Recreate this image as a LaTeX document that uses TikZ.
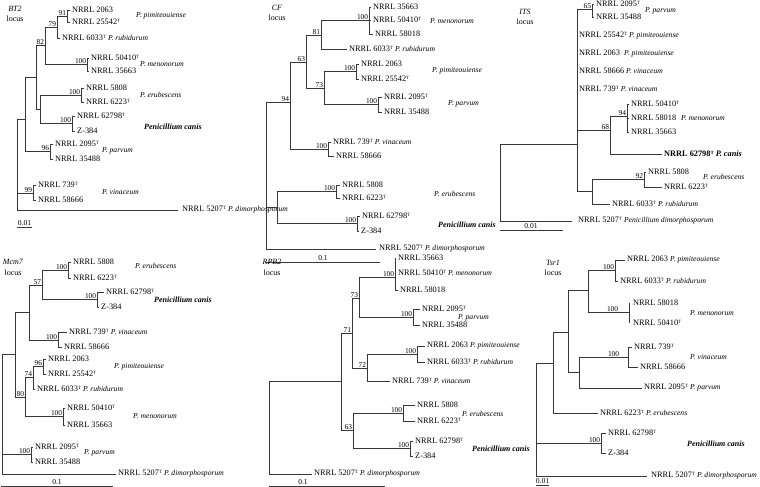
\documentclass[tikz,border=0pt]{standalone}
\usepackage{fontspec}
\setmainfont{Liberation Serif}
\newcommand{\sT}{\raisebox{0.62ex}{\fontsize{4.8}{5}\selectfont T}}
\newcommand{\spi}[1]{{\fontsize{7.6}{9}\selectfont\itshape #1}}
\begin{document}
\begin{tikzpicture}[x=1pt,y=-1pt,
  tl/.style={line width=0.9pt,draw=black!78},
  nt/.style={anchor=west,inner sep=0pt,xshift=2pt,font=\fontsize{8.3}{9}\selectfont},
  sp/.style={anchor=west,inner sep=0pt,font=\fontsize{7.6}{9}\selectfont\itshape},
  cn/.style={anchor=west,inner sep=0pt,font=\fontsize{8}{9}\selectfont\bfseries\itshape},
  bs/.style={anchor=south east,inner sep=0.7pt,font=\fontsize{7.4}{8}\selectfont},
  loc/.style={inner sep=0pt,font=\fontsize{8}{9}\selectfont},
  sc/.style={inner sep=0.5pt,anchor=south,font=\fontsize{7.6}{9}\selectfont}]
\useasboundingbox (0,0) rectangle (760,487);
\fill[white] (0,0) rectangle (760,487);

%%%%%%%%%%%%%%%% BT2
\node[loc] (bt2a) at (15,9) {\textit{BT2}};
\node[loc] (bt2b) at (15,19) {locus};
\coordinate (r1) at (17,119); \coordinate (a1) at (25,119);
\coordinate (b1) at (36,77);  \coordinate (c1) at (45,45);
\coordinate (d1) at (57,27);  \coordinate (e1) at (67,16);
\coordinate (t1a) at (70,10); \coordinate (t1b) at (70,22);
\coordinate (t1c) at (60,38);
\coordinate (m1) at (87,64);  \coordinate (t1d) at (89,58); \coordinate (t1e) at (89,71);
\coordinate (f1) at (40,109);
\coordinate (g1) at (81,95);  \coordinate (t1f) at (84,88); \coordinate (t1g) at (84,102);
\coordinate (h1) at (72,123); \coordinate (t1h) at (75,116); \coordinate (t1i) at (75,131);
\coordinate (p1) at (50,151); \coordinate (t1j) at (53,144); \coordinate (t1k) at (53,159);
\coordinate (v1) at (33,193); \coordinate (t1l) at (36,185); \coordinate (t1m) at (36,200);
\coordinate (t1n) at (178,210);
\foreach \p/\c in {r1/a1,r1/v1,r1/t1n,a1/b1,a1/p1,b1/c1,b1/f1,c1/d1,c1/m1,d1/e1,d1/t1c,
  e1/t1a,e1/t1b,m1/t1d,m1/t1e,f1/g1,f1/h1,g1/t1f,g1/t1g,h1/t1h,h1/t1i,p1/t1j,p1/t1k,v1/t1l,v1/t1m}
  \draw[tl] (\p) |- (\c);
\node[nt] (n1a) at (t1a) {NRRL 2063};
\node[nt] (n1b) at (t1b) {NRRL 25542\sT};
\node[sp] (s1a) at (136,16) {P. pimiteouiense};
\node[nt] (n1c) at (t1c) {NRRL 6033\sT{} \spi{P. rubidurum}};
\node[nt] (n1d) at (t1d) {NRRL 50410\sT};
\node[nt] (n1e) at (t1e) {NRRL 35663};
\node[sp] (s1b) at (140,64) {P. menonorum};
\node[nt] (n1f) at (t1f) {NRRL 5808};
\node[nt] (n1g) at (t1g) {NRRL 6223\sT};
\node[sp] (s1c) at (140,95) {P. erubescens};
\node[nt] (n1h) at (t1h) {NRRL 62798\sT};
\node[nt] (n1i) at (t1i) {Z-384};
\node[cn] (s1d) at (144,127) {Penicillium canis};
\node[nt] (n1j) at (t1j) {NRRL 2095\sT};
\node[nt] (n1k) at (t1k) {NRRL 35488};
\node[sp] (s1e) at (102,151) {P. parvum};
\node[nt] (n1l) at (t1l) {NRRL 739\sT};
\node[nt] (n1m) at (t1m) {NRRL 58666};
\node[sp] (s1f) at (102,192) {P. vinaceum};
\node[nt,xshift=2pt] (n1n) at (t1n) {NRRL 5207\sT{} \spi{P. dimorphosporum}};
\node[bs] (b1a) at (e1) {91};
\node[bs] (b1b) at (d1) {79};
\node[bs] (b1c) at (c1) {82};
\node[bs] (b1d) at (m1) {100};
\node[bs] (b1e) at (g1) {100};
\node[bs] (b1f) at (h1) {100};
\node[bs] (b1g) at (p1) {96};
\node[bs] (b1h) at (v1) {99};
\coordinate (k1a) at (17,227); \coordinate (k1b) at (32,227);
\draw[tl] (k1a) -- (k1b);
\node[sc] (k1) at (24.5,226) {0.01};

%%%%%%%%%%%%%%%% CF
\node[loc] (cfa) at (277,8) {\textit{CF}};
\node[loc] (cfb) at (277,18) {locus};
\coordinate (r2) at (266,102); \coordinate (n2a) at (290,102);
\coordinate (n2b) at (306,62);  \coordinate (n2c) at (321,35);
\coordinate (m2) at (369,20);   \coordinate (t2a) at (371,7); \coordinate (t2b) at (371,20); \coordinate (t2c) at (373,34);
\coordinate (t2d) at (347,49);
\coordinate (n2d) at (324,88);
\coordinate (p2a) at (356,71);  \coordinate (t2e) at (359,64); \coordinate (t2f) at (359,79);
\coordinate (p2b) at (378,104); \coordinate (t2g) at (382,97); \coordinate (t2h) at (382,112);
\coordinate (v2) at (328,149);  \coordinate (t2i) at (331,142); \coordinate (t2j) at (334,156);
\coordinate (l2) at (277,207);
\coordinate (g2) at (336,191);  \coordinate (t2k) at (340,185); \coordinate (t2l) at (340,198);
\coordinate (h2) at (357,223);  \coordinate (t2m) at (360,216); \coordinate (t2n) at (359,231);
\coordinate (t2o) at (376,249);
\foreach \p/\c in {r2/n2a,r2/l2,r2/t2o,n2a/n2b,n2a/v2,n2b/n2c,n2b/n2d,n2c/m2,n2c/t2d,
  m2/t2a,m2/t2b,m2/t2c,n2d/p2a,n2d/p2b,p2a/t2e,p2a/t2f,p2b/t2g,p2b/t2h,v2/t2i,v2/t2j,
  l2/g2,l2/h2,g2/t2k,g2/t2l,h2/t2m,h2/t2n}
  \draw[tl] (\p) |- (\c);
\node[nt] (n2a1) at (t2a) {NRRL 35663};
\node[nt] (n2b1) at (t2b) {NRRL 50410\sT};
\node[sp] (s2a) at (430,21) {P. menonorum};
\node[nt] (n2c1) at (t2c) {NRRL 58018};
\node[nt] (n2d1) at (t2d) {NRRL 6033\sT{} \spi{P. rubidurum}};
\node[nt] (n2e1) at (t2e) {NRRL 2063};
\node[nt] (n2f1) at (t2f) {NRRL 25542\sT};
\node[sp] (s2b) at (432,71) {P. pimiteouiense};
\node[nt] (n2g1) at (t2g) {NRRL 2095\sT};
\node[nt] (n2h1) at (t2h) {NRRL 35488};
\node[sp] (s2c) at (448,104) {P. parvum};
\node[nt] (n2i1) at (t2i) {NRRL 739\sT{} \spi{P. vinaceum}};
\node[nt] (n2j1) at (t2j) {NRRL 58666};
\node[nt] (n2k1) at (t2k) {NRRL 5808};
\node[nt] (n2l1) at (t2l) {NRRL 6223\sT};
\node[sp] (s2d) at (434,194) {P. erubescens};
\node[nt] (n2m1) at (t2m) {NRRL 62798\sT};
\node[nt] (n2n1) at (t2n) {Z-384};
\node[cn] (s2e) at (438,225) {Penicillium canis};
\node[nt,xshift=1pt] (n2o1) at (t2o) {NRRL 5207\sT{} \spi{P. dimorphosporum}};
\node[bs] (b2a) at (m2) {100};
\node[bs] (b2b) at (n2c) {81};
\node[bs] (b2c) at (n2b) {63};
\node[bs] (b2d) at (n2d) {73};
\node[bs] (b2e) at (p2a) {100};
\node[bs] (b2f) at (p2b) {100};
\node[bs] (b2g) at (n2a) {94};
\node[bs] (b2h) at (v2) {100};
\node[bs] (b2i) at (g2) {100};
\node[bs] (b2j) at (h2) {100};
\coordinate (k2a) at (266,262); \coordinate (k2b) at (380,262);
\draw[tl] (k2a) -- (k2b);
\node[sc] (k2) at (323,261) {0.1};

%%%%%%%%%%%%%%%% ITS
\node[loc] (itsa) at (525,12) {\textit{ITS}};
\node[loc] (itsb) at (525,22) {locus};
\coordinate (r3) at (500,144); \coordinate (m3) at (577,144);
\coordinate (p3) at (592,9);   \coordinate (t3a) at (594,4); \coordinate (t3b) at (594,17);
\coordinate (n3a) at (610,130); \coordinate (n3b) at (627,116);
\coordinate (t3c) at (629,104); \coordinate (t3d) at (629,118); \coordinate (t3e) at (629,132);
\coordinate (t3f) at (662,154);
\coordinate (l3) at (592,191); \coordinate (g3) at (644,179);
\coordinate (t3g) at (646,172); \coordinate (t3h) at (662,187);
\coordinate (t3i) at (610,204); \coordinate (t3j) at (572,221);
\coordinate (t3k) at (577,36); \coordinate (t3l) at (577,54);
\coordinate (t3m) at (577,71); \coordinate (t3n) at (577,89);
\foreach \p/\c in {r3/m3,r3/t3j,m3/p3,m3/n3a,m3/l3,p3/t3a,p3/t3b,n3a/n3b,n3a/t3f,
  n3b/t3c,n3b/t3d,n3b/t3e,l3/g3,l3/t3i,g3/t3g,g3/t3h}
  \draw[tl] (\p) |- (\c);
\node[nt] (n3a1) at (t3a) {NRRL 2095\sT};
\node[nt] (n3b1) at (t3b) {NRRL 35488};
\node[sp] (s3a) at (645,11) {P. parvum};
\node[nt] (n3k1) at (t3k) {NRRL 25542\sT{} \spi{P. pimiteouiense}};
\node[nt] (n3l1) at (t3l) {NRRL 2063\enspace\spi{P. pimiteouiense}};
\node[nt] (n3m1) at (t3m) {NRRL 58666 \spi{P. vinaceum}};
\node[nt] (n3n1) at (t3n) {NRRL 739\sT{} \spi{P. vinaceum}};
\node[nt] (n3c1) at (t3c) {NRRL 50410\sT};
\node[nt] (n3d1) at (t3d) {NRRL 58018};
\node[sp] (s3b) at (681,118) {P. menonorum};
\node[nt] (n3e1) at (t3e) {NRRL 35663};
\node[nt,font=\fontsize{8.3}{9}\selectfont\bfseries] (n3f1) at (t3f) {NRRL 62798\sT{} \textit{P. canis}};
\node[nt] (n3g1) at (t3g) {NRRL 5808};
\node[nt] (n3h1) at (t3h) {NRRL 6223\sT};
\node[sp] (s3c) at (703,177) {P. erubescens};
\node[nt] (n3i1) at (t3i) {NRRL 6033\sT{} \spi{P. rubidurum}};
\node[nt,xshift=4pt] (n3j1) at (t3j) {NRRL 5207\sT{} \spi{Penicillium dimorphosporum}};
\node[bs] (b3a) at (p3) {65};
\node[bs] (b3b) at (n3a) {68};
\node[bs] (b3c) at (n3b) {94};
\node[bs] (b3d) at (g3) {92};
\coordinate (k3a) at (500,230); \coordinate (k3b) at (563,230);
\draw[tl] (k3a) -- (k3b);
\node[sc] (k3) at (531,229) {0.01};

%%%%%%%%%%%%%%%% Mcm7
\node[loc] (mcma) at (13,262) {\textit{Mcm7}};
\node[loc] (mcmb) at (13,273) {locus};
\coordinate (r4) at (2,354);   \coordinate (n4a) at (15,354);
\coordinate (n4b) at (29,312); \coordinate (n4c) at (42,285);
\coordinate (g4) at (68,270);  \coordinate (t4a) at (71,262); \coordinate (t4b) at (71,278);
\coordinate (h4) at (97,299);  \coordinate (t4c) at (104,292); \coordinate (t4d) at (99,307);
\coordinate (v4) at (58,340);  \coordinate (t4e) at (67,332); \coordinate (t4f) at (62,347);
\coordinate (n4d) at (25,397); \coordinate (n4e) at (33,377);
\coordinate (p4a) at (43,366); \coordinate (t4g) at (46,359); \coordinate (t4h) at (46,374);
\coordinate (t4i) at (35,389);
\coordinate (m4) at (63,416);  \coordinate (t4j) at (65,408); \coordinate (t4k) at (65,425);
\coordinate (p4b) at (31,454); \coordinate (t4l) at (33,447); \coordinate (t4m) at (33,462);
\coordinate (t4n) at (116,474);
\foreach \p/\c in {r4/n4a,r4/p4b,r4/t4n,n4a/n4b,n4a/n4d,n4b/n4c,n4b/v4,n4c/g4,n4c/h4,
  g4/t4a,g4/t4b,h4/t4c,h4/t4d,v4/t4e,v4/t4f,n4d/n4e,n4d/m4,n4e/p4a,n4e/t4i,p4a/t4g,p4a/t4h,
  m4/t4j,m4/t4k,p4b/t4l,p4b/t4m}
  \draw[tl] (\p) |- (\c);
\node[nt] (n4a1) at (t4a) {NRRL 5808};
\node[nt] (n4b1) at (t4b) {NRRL 6223\sT};
\node[sp] (s4a) at (135,266) {P. erubescens};
\node[nt] (n4c1) at (t4c) {NRRL 62798\sT};
\node[nt] (n4d1) at (t4d) {Z-384};
\node[cn] (s4b) at (154,300) {Penicillium canis};
\node[nt] (n4e1) at (t4e) {NRRL 739\sT{} \spi{P. vinaceum}};
\node[nt] (n4f1) at (t4f) {NRRL 58666};
\node[nt] (n4g1) at (t4g) {NRRL 2063};
\node[nt] (n4h1) at (t4h) {NRRL 25542\sT};
\node[sp] (s4c) at (114,367) {P. pimiteouiense};
\node[nt] (n4i1) at (t4i) {NRRL 6033\sT{} \spi{P. rubidurum}};
\node[nt] (n4j1) at (t4j) {NRRL 50410\sT};
\node[nt] (n4k1) at (t4k) {NRRL 35663};
\node[sp] (s4d) at (133,416) {P. menonorum};
\node[nt] (n4l1) at (t4l) {NRRL 2095\sT};
\node[nt] (n4m1) at (t4m) {NRRL 35488};
\node[sp] (s4e) at (84,453) {P. parvum};
\node[nt] (n4n1) at (t4n) {NRRL 5207\sT{} \spi{P. dimorphosporum}};
\node[bs] (b4a) at (g4) {100};
\node[bs] (b4b) at (n4c) {57};
\node[bs] (b4c) at (h4) {100};
\node[bs] (b4d) at (v4) {100};
\node[bs] (b4e) at (p4a) {96};
\node[bs] (b4f) at (n4e) {74};
\node[bs] (b4g) at (n4d) {80};
\node[bs] (b4h) at (m4) {100};
\node[bs] (b4i) at (p4b) {100};
\coordinate (k4a) at (1,486); \coordinate (k4b) at (113,486);
\draw[tl] (k4a) -- (k4b);
\node[sc] (k4) at (57,485) {0.1};

%%%%%%%%%%%%%%%% RPB2
\node[loc] (rpba) at (272,262) {\textit{RPB2}};
\node[loc] (rpbb) at (272,273) {locus};
\coordinate (r5) at (269,381); \coordinate (n5a) at (341,381);
\coordinate (n5b) at (352,333); \coordinate (n5c) at (359,298);
\coordinate (m5) at (395,277);  \coordinate (t5a) at (396,258); \coordinate (t5b) at (396,273); \coordinate (t5c) at (398,290);
\coordinate (p5a) at (413,317); \coordinate (t5d) at (420,309); \coordinate (t5e) at (420,325);
\coordinate (n5d) at (367,368);
\coordinate (p5b) at (417,354); \coordinate (t5f) at (425,346); \coordinate (t5g) at (425,362);
\coordinate (t5h) at (390,381);
\coordinate (n5e) at (353,430);
\coordinate (g5) at (403,413);  \coordinate (t5i) at (415,405); \coordinate (t5j) at (415,421);
\coordinate (h5) at (410,448);  \coordinate (t5k) at (413,441); \coordinate (t5l) at (413,456);
\coordinate (t5m) at (312,474);
\foreach \p/\c in {r5/n5a,r5/t5m,n5a/n5b,n5a/n5e,n5b/n5c,n5b/n5d,n5c/m5,n5c/p5a,
  m5/t5a,m5/t5b,m5/t5c,p5a/t5d,p5a/t5e,n5d/p5b,n5d/t5h,p5b/t5f,p5b/t5g,
  n5e/g5,n5e/h5,g5/t5i,g5/t5j,h5/t5k,h5/t5l}
  \draw[tl] (\p) |- (\c);
\node[nt] (n5a1) at (t5a) {NRRL 35663};
\node[nt] (n5b1) at (t5b) {NRRL 50410\sT{} \spi{P. menonorum}};
\node[nt] (n5c1) at (t5c) {NRRL 58018};
\node[nt] (n5d1) at (t5d) {NRRL 2095\sT};
\node[nt] (n5e1) at (t5e) {NRRL 35488};
\node[sp] (s5a) at (458,318) {P. parvum};
\node[nt] (n5f1) at (t5f) {NRRL 2063 \spi{P. pimiteouiense}};
\node[nt] (n5g1) at (t5g) {NRRL 6033\sT{} \spi{P. rubidurum}};
\node[nt] (n5h1) at (t5h) {NRRL 739\sT{} \spi{P. vinaceum}};
\node[nt] (n5i1) at (t5i) {NRRL 5808};
\node[nt] (n5j1) at (t5j) {NRRL 6223\sT};
\node[sp] (s5b) at (462,414) {P. erubescens};
\node[nt] (n5k1) at (t5k) {NRRL 62798\sT};
\node[nt] (n5l1) at (t5l) {Z-384};
\node[cn] (s5c) at (472,449) {Penicillium canis};
\node[nt] (n5m1) at (t5m) {NRRL 5207\sT{} \spi{P. dimorphosporum}};
\node[bs] (b5a) at (m5) {100};
\node[bs] (b5b) at (n5c) {73};
\node[bs] (b5c) at (n5b) {71};
\node[bs] (b5d) at (p5a) {100};
\node[bs] (b5e) at (n5d) {72};
\node[bs] (b5f) at (p5b) {100};
\node[bs] (b5g) at (n5e) {63};
\node[bs] (b5h) at (g5) {100};
\node[bs] (b5i) at (h5) {100};
\coordinate (k5a) at (269,486); \coordinate (k5b) at (385,486);
\draw[tl] (k5a) -- (k5b);
\node[sc] (k5) at (303,485) {0.1};

%%%%%%%%%%%%%%%% Tsr1
\node[loc] (tsra) at (553,263) {\textit{Tsr1}};
\node[loc] (tsrb) at (553,273) {locus};
\coordinate (r6) at (536,363); \coordinate (n6a) at (553,363);
\coordinate (n6b) at (568,332); \coordinate (n6c) at (588,290);
\coordinate (p6) at (615,270);  \coordinate (t6a) at (625,260); \coordinate (t6b) at (618,281);
\coordinate (m6) at (629,312);  \coordinate (t6c) at (629,303); \coordinate (t6d) at (629,323);
\coordinate (n6d) at (579,372);
\coordinate (v6) at (628,357);  \coordinate (t6e) at (632,347); \coordinate (t6f) at (638,367);
\coordinate (t6g) at (642,388); \coordinate (t6h) at (598,413);
\coordinate (h6) at (601,443);  \coordinate (t6i) at (606,433); \coordinate (t6j) at (606,453);
\coordinate (t6k) at (647,476);
\foreach \p/\c in {r6/n6a,r6/h6,r6/t6k,n6a/n6b,n6a/t6h,n6b/n6c,n6b/n6d,n6c/p6,n6c/m6,
  p6/t6a,p6/t6b,m6/t6c,m6/t6d,n6d/v6,n6d/t6g,v6/t6e,v6/t6f,h6/t6i,h6/t6j}
  \draw[tl] (\p) |- (\c);
\node[nt] (n6a1) at (t6a) {NRRL 2063 \spi{P. pimiteouiense}};
\node[nt] (n6b1) at (t6b) {NRRL 6033\sT{} \spi{P. rubidurum}};
\node[nt,xshift=2pt] (n6c1) at (t6c) {NRRL 58018};
\node[nt,xshift=2pt] (n6d1) at (t6d) {NRRL 50410\sT};
\node[sp] (s6a) at (690,313) {P. menonorum};
\node[nt] (n6e1) at (t6e) {NRRL 739\sT};
\node[nt] (n6f1) at (t6f) {NRRL 58666};
\node[sp] (s6b) at (690,357) {P. vinaceum};
\node[nt] (n6g1) at (t6g) {NRRL 2095\sT{} \spi{P. parvum}};
\node[nt] (n6h1) at (t6h) {NRRL 6223\sT{} \spi{P. erubescens}};
\node[nt] (n6i1) at (t6i) {NRRL 62798\sT};
\node[nt] (n6j1) at (t6j) {Z-384};
\node[cn] (s6c) at (687,444) {Penicillium canis};
\node[nt,xshift=2pt] (n6k1) at (t6k) {NRRL 5207\sT{} \spi{P. dimorphosporum}};
\node[bs] (b6a) at (p6) {100};
\node[bs,xshift=-10pt] (b6b) at (m6) {100};
\node[bs,xshift=-8pt] (b6c) at (v6) {100};
\node[bs] (b6d) at (h6) {100};
\coordinate (k6a) at (536,485); \coordinate (k6b) at (549,485);
\draw[tl] (k6a) -- (k6b);
\node[sc] (k6) at (542.5,484) {0.01};
\end{tikzpicture}
\end{document}
